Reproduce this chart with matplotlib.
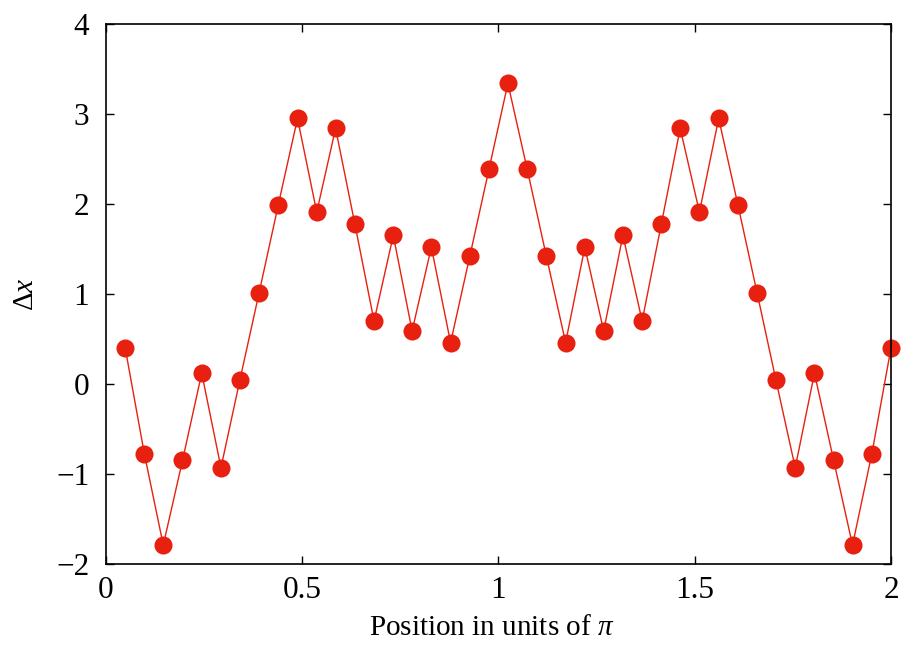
import matplotlib
matplotlib.use("Agg")
import matplotlib.pyplot as plt

plt.rcParams['font.family'] = ['Liberation Serif', 'DejaVu Serif']
plt.rcParams['mathtext.fontset'] = 'custom'
plt.rcParams['mathtext.rm'] = 'Liberation Serif'
plt.rcParams['mathtext.it'] = 'Liberation Serif:italic'

#Data-------------------------------
position = [0.049, 0.098, 0.146, 0.195, 0.244, 0.293, 0.341, 0.390, 0.439, 0.488,
            0.537, 0.585, 0.634, 0.683, 0.732, 0.780, 0.829, 0.878, 0.927, 0.976,
            1.024, 1.073, 1.122, 1.171, 1.220, 1.268, 1.317, 1.366, 1.415, 1.463,
            1.512, 1.561, 1.610, 1.659, 1.707, 1.756, 1.805, 1.854, 1.902, 1.951,
            2.000]
deltaX = [0.40, -0.78, -1.79, -0.85, 0.12, -0.93, 0.04, 1.01, 1.99, 2.95,
          1.91, 2.84, 1.78, 0.70, 1.65, 0.59, 1.52, 0.46, 1.42, 2.39,
          3.34, 2.39, 1.42, 0.46, 1.52, 0.59, 1.65, 0.70, 1.78, 2.84,
          1.91, 2.95, 1.99, 1.01, 0.04, -0.93, 0.12, -0.85, -1.79, -0.78,
          0.40]
xTicks = [0, 0.5, 1, 1.5, 2]
xTickLabels = ["0", "0.5", "1", "1.5", "2"]
yTicks = [-2, -1, 0, 1, 2, 3, 4]
yTickLabels = ["\u22122", "\u22121", "0", "1", "2", "3", "4"]
#-----------------------------------

fig = plt.figure(figsize=(9.01, 6.52), dpi=100)
ax = fig.add_axes([0.1176, 0.135, 0.8713, 0.8282])

ax.plot(position, deltaX, color='#e8200f', linewidth=1.0, marker='o',
        markersize=13, markeredgewidth=0, clip_on=False)

ax.set_xlim(0, 2)
ax.set_ylim(-2, 4)
ax.set_xticks(xTicks)
ax.set_xticklabels(xTickLabels)
ax.set_yticks(yTicks)
ax.set_yticklabels(yTickLabels)
ax.tick_params(direction='in', length=6, width=1, labelsize=22.5,
               top=True, right=True)
ax.tick_params(axis='x', pad=9)
ax.tick_params(axis='y', pad=12)
for s in ax.spines.values():
    s.set_linewidth(1.2)

ax.set_xlabel("Position in units of $\\pi$", fontsize=21)
ax.xaxis.set_label_coords(0.492, -0.094)
ax.set_ylabel("$\\Delta x$", fontsize=21, labelpad=12)

fig.savefig("out.png", dpi=100)
